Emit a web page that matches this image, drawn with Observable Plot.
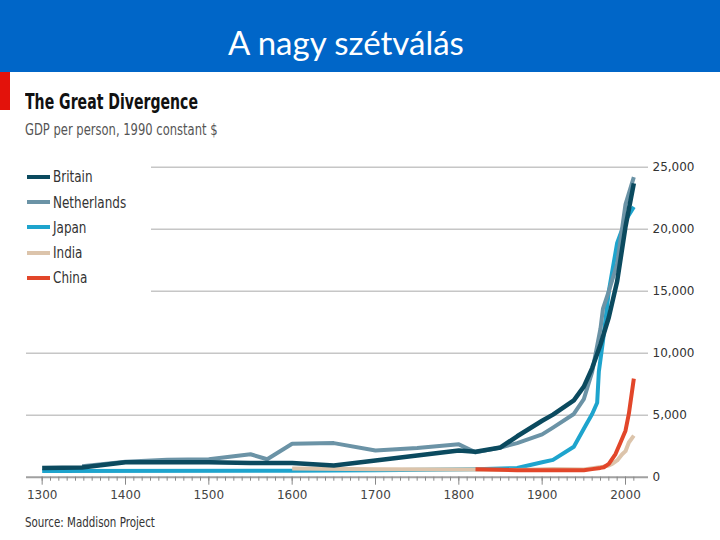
<!DOCTYPE html>
<html>
<head>
<meta charset="utf-8">
<script src="https://cdn.jsdelivr.net/npm/d3@7"></script>
<script src="https://cdn.jsdelivr.net/npm/@observablehq/plot@0.6"></script>
<style>
  html, body { margin: 0; padding: 0; background: #fff; }
  body { width: 720px; height: 540px; overflow: hidden; position: relative; }
  .narrow { font-family: "DejaVu Sans", sans-serif; transform-origin: 0 0; }
  #hdr { position: absolute; left: 0; top: 0; width: 720px; height: 72px; background: #0066c8; }
  #hdr span { position: absolute; left: 228px; top: 22px; color: #fff; font-family: Lato, "Open Sans", sans-serif; font-size: 33px; line-height: 40px; white-space: nowrap; }
  #redbar { position: absolute; left: 0; top: 72px; width: 10px; height: 38px; background: #e3120b; }
  #title { position: absolute; left: 25px; top: 89px; font-size: 22px; font-weight: bold; color: #111; line-height: 26px; white-space: nowrap; transform: scaleX(0.64); }
  #subtitle { position: absolute; left: 25px; top: 121px; font-size: 15px; color: #555; line-height: 18px; white-space: nowrap; transform: scaleX(0.77); }
  #chart { position: absolute; left: 0; top: 72px; }
  #legend { position: absolute; left: 20px; top: 160px; width: 131px; height: 134px; background: #fff; }
  .row { position: absolute; left: 0; height: 25px; width: 131px; }
  .row i { position: absolute; left: 7px; top: 10.5px; width: 23px; height: 4px; }
  .row span { position: absolute; left: 33px; top: 0; line-height: 25px; font-size: 16px; color: #333; white-space: nowrap; transform: scaleX(0.75); transform-origin: 0 0; }
  #source { position: absolute; left: 25px; top: 513px; font-size: 14px; color: #333; line-height: 18px; white-space: nowrap; transform: scaleX(0.735); }
</style>
</head>
<body>
<div id="hdr"><span>A nagy szétválás</span></div>
<div id="redbar"></div>
<div id="chart"></div>
<div id="title" class="narrow">The Great Divergence</div>
<div id="subtitle" class="narrow">GDP per person, 1990 constant $</div>
<div id="legend" class="narrow"></div>
<div id="source" class="narrow">Source: Maddison Project</div>
<script>
// ---- Data ----
const countries = ["Britain", "Netherlands", "Japan", "India", "China"];
const colors = ["#0b4a5f", "#6b93a6", "#1ea4cd", "#dcc4ab", "#e2462a"];

const britainYears = [1300,1348,1400,1450,1500,1550,1600,1650,1700,1750,1800,1820,1850,1870,1900,1913,1938,1950,1960,1970,1980,1990,2000,2010];
const britainGDP   = [750,780,1200,1200,1200,1150,1150,950,1350,1750,2150,2050,2400,3300,4550,5050,6200,7300,8800,10700,12900,15800,20200,23700];

const netherlandsYears = [1348,1400,1450,1500,1550,1570,1600,1650,1700,1750,1800,1820,1850,1870,1900,1913,1938,1950,1960,1970,1973,1980,1990,2000,2010];
const netherlandsGDP   = [880,1250,1400,1450,1850,1450,2700,2750,2150,2350,2650,2000,2400,2750,3450,4000,5100,6300,8500,12000,13600,15000,17200,22000,24200];

const japanYears = [1300,1600,1700,1820,1870,1900,1913,1938,1952,1960,1966,1968,1973,1980,1990,2000,2010];
const japanGDP   = [500,520,570,650,740,1200,1400,2450,4150,5100,6000,8500,11000,15000,18900,20700,21800];

const indiaYears = [1600,1700,1820,1870,1913,1950,1973,1980,1984,1990,1996,2000,2004,2010];
const indiaGDP   = [700,650,630,580,670,620,850,950,1070,1350,1850,2100,2800,3350];

const chinaYears = [1820,1850,1870,1900,1913,1950,1960,1970,1974,1980,1988,1994,2000,2004,2010];
const chinaGDP   = [640,600,560,560,570,560,650,750,800,1070,1870,2800,3750,5100,7950];

const xTickLabels = [1300,1400,1500,1600,1700,1800,1900,2000];
const yTicks = [0,5000,10000,15000,20000,25000];
const minorTicks = d3.range(1300, 2011, 10);

// ---- build tables ----
const series = {
  Britain: [britainYears, britainGDP],
  Netherlands: [netherlandsYears, netherlandsGDP],
  Japan: [japanYears, japanGDP],
  India: [indiaYears, indiaGDP],
  China: [chinaYears, chinaGDP]
};
const rows = c => series[c][0].map((y, i) => ({year: y, gdp: series[c][1][i], country: c}));
const colorOf = c => colors[countries.indexOf(c)];
const drawOrder = ["Japan", "India", "China", "Netherlands", "Britain"];

const chart = Plot.plot({
  width: 720,
  height: 440,
  marginLeft: 26,
  marginRight: 72,
  marginTop: 94.7,
  marginBottom: 35.3,
  x: {domain: [1281.2, 2027.6], axis: null},
  y: {domain: [0, 25000], axis: null},
  style: {fontFamily: "DejaVu Sans, sans-serif", fontSize: "12px", color: "#333", background: "transparent", overflow: "visible"},
  marks: [
    Plot.ruleY(yTicks.filter(d => d > 0), {stroke: "#c6c6c6", strokeWidth: 1.6, strokeOpacity: 1}),
    Plot.axisY({anchor: "right", ticks: yTicks, tickSize: 0, tickPadding: 4, tickFormat: d3.format(","), fill: "#333", label: null}),
    Plot.ruleY([0], {stroke: "#a0a0a0", strokeWidth: 2}),
    Plot.axisX({ticks: minorTicks, tickSize: 4, tickFormat: () => "", stroke: "#888", strokeWidth: 1, label: null}),
    Plot.axisX({ticks: xTickLabels, tickSize: 8, tickPadding: 5, tickFormat: d => String(d), stroke: "#888", strokeWidth: 1, fill: "#444", label: null}),
    ...drawOrder.map(c => Plot.line(rows(c), {
      x: "year", y: "gdp",
      stroke: colorOf(c),
      strokeWidth: c === "Britain" ? 4.5 : 4,
      strokeLinejoin: "round",
      strokeLinecap: "butt"
    }))
  ]
});
document.getElementById("chart").appendChild(chart);

// ---- legend ----
const legend = document.getElementById("legend");
countries.forEach((c, i) => {
  const r = document.createElement("div");
  r.className = "row";
  r.style.top = (4.3 + i * 25.25) + "px";
  const sw = document.createElement("i");
  sw.style.background = colors[i];
  const t = document.createElement("span");
  t.textContent = c;
  r.appendChild(sw); r.appendChild(t);
  legend.appendChild(r);
});
</script>
</body>
</html>
